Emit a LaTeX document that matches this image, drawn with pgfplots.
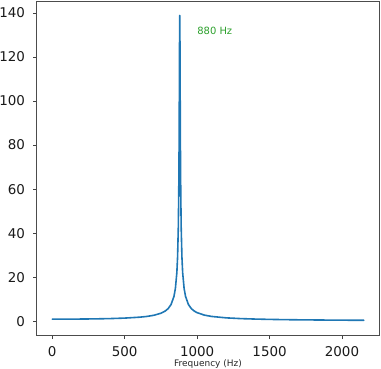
\documentclass[border=0pt]{standalone}
\usepackage{pgfplots}
\pgfplotsset{compat=1.18}
\usepackage{fontspec}
\setmainfont{DejaVu Sans}
\definecolor{mplblue}{HTML}{1F77B4}
\definecolor{mplgreen}{HTML}{2CA02C}
\begin{document}
\begin{tikzpicture}
\begin{axis}[
  scale only axis,
  width=342.6bp, height=334.7bp,
  xmin=-107.5, xmax=2257.5,
  ymin=-6.5, ymax=145.4,
  xtick={0,500,1000,1500,2000},
  ytick={0,20,40,60,80,100,120,140},
  tick align=outside,
  xtick pos=bottom, ytick pos=left,
  major tick length=3.5bp,
  every tick/.style={black!75, line width=0.6bp},
  axis line style={black!70, line width=0.8bp},
  /pgf/number format/assume math mode=true,
  /pgf/number format/1000 sep={},
  ticklabel style={font=\fontsize{13.5}{15}\selectfont, text=black!90},
  xticklabel style={anchor=base, inner sep=0pt, yshift=-17.6bp},
  yticklabel style={anchor=east, inner sep=0pt, xshift=-8bp},
  xlabel={Frequency (Hz)},
  xlabel style={font=\fontsize{9}{11}\selectfont, text=black!85, at={(axis description cs:0.5,0)}, anchor=base, inner sep=0pt, yshift=-30.3bp},
]
\addplot[mplblue, line width=1.6bp, line join=round, line cap=round, sharp plot] coordinates {
(0,1.01) (100,1.02) (200,1.06) (300,1.14) (400,1.27) (500,1.49) (600,1.89)
(650,2.22) (700,2.75) (750,3.69) (780,4.71) (800,5.81) (820,7.66) (840,11.33)
(850,14.98) (860,22.18) (865,29.2) (870,42.55) (873,57.95) (875,75.05)
(877,101.45) (878,118.0) (879,132.5) (880,138.8)
(881,132.5) (882,118.0) (883,101.4) (885,75.0) (887,57.9) (890,42.5)
(895,29.2) (900,22.18) (910,14.97) (920,11.32) (940,7.64) (960,5.79)
(980,4.68) (1000,3.94) (1050,2.84) (1100,2.24) (1200,1.60) (1300,1.26)
(1400,1.05) (1500,0.90) (1600,0.79) (1700,0.71) (1800,0.65) (1900,0.59)
(2000,0.55) (2100,0.51) (2150,0.50)
};
\node[anchor=base west, inner sep=0pt, text=mplgreen, font=\fontsize{10}{12}\selectfont] at (axis cs:1000,130) {880 Hz};
\end{axis}
\pgfresetboundingbox
\path[use as bounding box] (-36.7bp,-33.3bp) rectangle (344.3bp,335.7bp);
\end{tikzpicture}
\end{document}
